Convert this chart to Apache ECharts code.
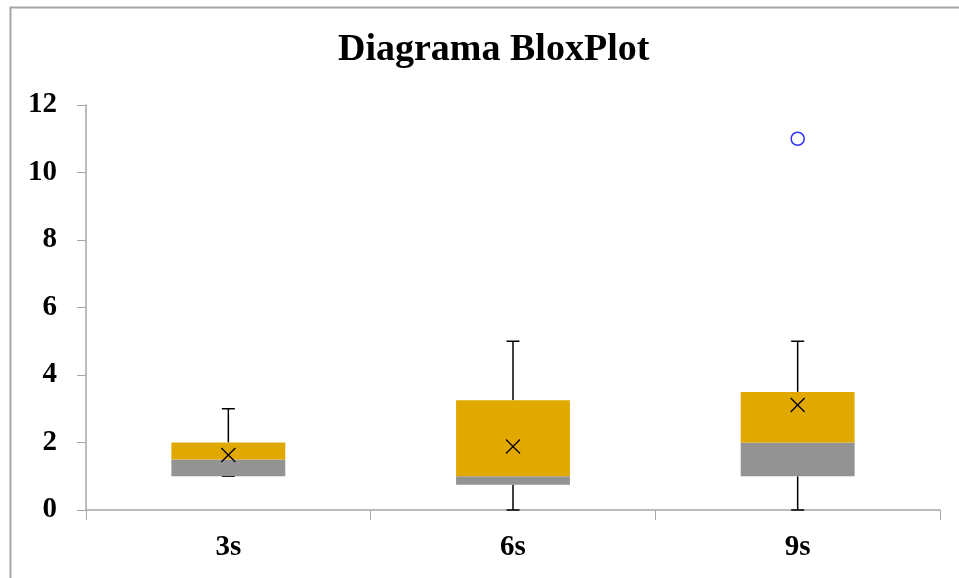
<!DOCTYPE html>
<html>
<head>
<meta charset="utf-8">
<script src="https://cdn.jsdelivr.net/npm/echarts@6/dist/echarts.min.js"></script>
<style>html,body{margin:0;padding:0;background:#fff;}#c{width:959px;height:578px;}</style>
</head>
<body>
<div id="c"></div>
<script>
var categories = ['3s', '6s', '9s'];
var whiskerLow = [1, 0, 0];
var q1 = [1, 0.75, 1];
var median = [1.5, 1, 2];
var q3 = [2, 3.25, 3.5];
var whiskerHigh = [3, 5, 5];
var means = [1.63, 1.88, 3.11];
var outliers = [[2, 11]];
var yTicks = {min: 0, max: 12, interval: 2};

var boxData = categories.map(function (c, i) {
  return [i, whiskerLow[i], q1[i], median[i], q3[i], whiskerHigh[i], means[i]];
});

var serif = '"Liberation Serif", "Times New Roman", serif';
var chart = echarts.init(document.getElementById('c'));
chart.setOption({
  animation: false,
  backgroundColor: '#fff',
  title: {
    text: 'Diagrama BloxPlot',
    left: 333,
    top: 26,
    textStyle: {fontFamily: serif, fontWeight: 'bold', fontSize: 38, color: '#000'}
  },
  graphic: [{
    type: 'rect', left: 8, top: 5, shape: {width: 1200, height: 1200},
    style: {fill: 'none', stroke: '#a6a6a6', lineWidth: 2}, silent: true
  }],
  grid: {left: 86, right: 19, top: 105, bottom: 68},
  xAxis: {
    type: 'category',
    data: categories,
    boundaryGap: true,
    axisLine: {show: true, lineStyle: {color: '#a6a6a6', width: 1.5}},
    axisTick: {show: true, length: 10, lineStyle: {color: '#a6a6a6'}},
    axisLabel: {fontFamily: serif, fontWeight: 'bold', fontSize: 29, color: '#000', margin: 23},
    splitLine: {show: false}
  },
  yAxis: {
    type: 'value',
    min: yTicks.min, max: yTicks.max, interval: yTicks.interval,
    axisLine: {show: true, lineStyle: {color: '#a6a6a6', width: 1.5}},
    axisTick: {show: true, length: 9, lineStyle: {color: '#a6a6a6'}},
    axisLabel: {fontFamily: serif, fontWeight: 'bold', fontSize: 29, color: '#000', margin: 29},
    splitLine: {show: false}
  },
  series: [{
    type: 'custom',
    data: boxData,
    encode: {x: 0, y: [1, 2, 3, 4, 5]},
    renderItem: function (params, api) {
      var x = api.value(0);
      var pLow = api.coord([x, api.value(1)]);
      var pQ1 = api.coord([x, api.value(2)]);
      var pMed = api.coord([x, api.value(3)]);
      var pQ3 = api.coord([x, api.value(4)]);
      var pHigh = api.coord([x, api.value(5)]);
      var pMean = api.coord([x, api.value(6)]);
      var band = api.size([1, 0])[0];
      var w = band * 0.4;
      var cx = pQ1[0];
      var cap = 6.5;
      var m = 7;
      var lineStyle = {stroke: '#000', lineWidth: 1.5};
      return {
        type: 'group',
        children: [
          {type: 'line', shape: {x1: cx, y1: pHigh[1], x2: cx, y2: pQ3[1]}, style: lineStyle},
          {type: 'line', shape: {x1: cx - cap, y1: pHigh[1], x2: cx + cap, y2: pHigh[1]}, style: lineStyle},
          {type: 'line', shape: {x1: cx, y1: pQ1[1], x2: cx, y2: pLow[1]}, style: lineStyle},
          {type: 'line', shape: {x1: cx - cap, y1: pLow[1], x2: cx + cap, y2: pLow[1]}, style: lineStyle},
          {type: 'rect', shape: {x: cx - w / 2, y: pMed[1], width: w, height: pQ1[1] - pMed[1]},
            style: {fill: '#939393'}},
          {type: 'rect', shape: {x: cx - w / 2, y: pQ3[1], width: w, height: pMed[1] - pQ3[1]},
            style: {fill: '#E1A900'}},
          {type: 'line', shape: {x1: cx - m, y1: pMean[1] - m, x2: cx + m, y2: pMean[1] + m},
            style: {stroke: '#000', lineWidth: 1.3}},
          {type: 'line', shape: {x1: cx - m, y1: pMean[1] + m, x2: cx + m, y2: pMean[1] - m},
            style: {stroke: '#000', lineWidth: 1.3}}
        ]
      };
    }
  }, {
    type: 'scatter',
    data: outliers,
    symbol: 'circle',
    symbolSize: 13,
    itemStyle: {color: '#fff', borderColor: '#0000FF', borderWidth: 1.5}
  }]
});
</script>
</body>
</html>
